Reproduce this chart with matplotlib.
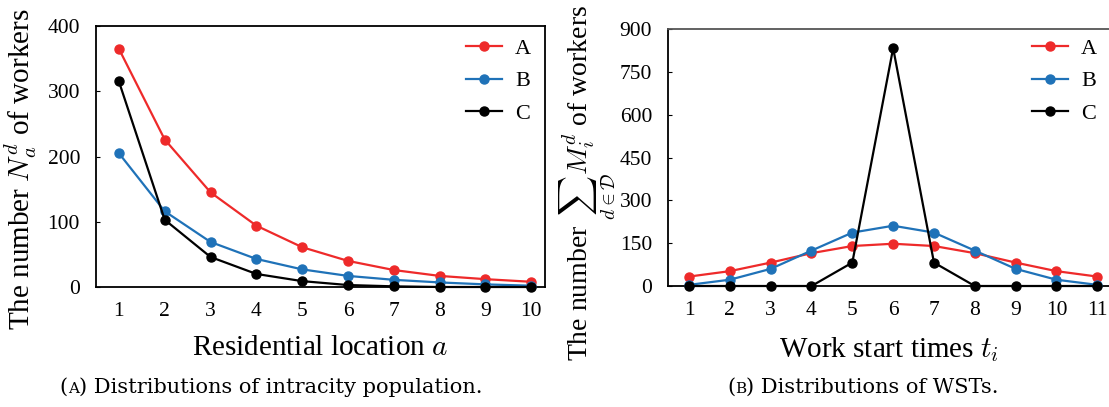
import matplotlib
matplotlib.use("Agg")
import matplotlib.pyplot as plt

plt.rcParams["font.family"] = ["Liberation Serif", "DejaVu Serif"]
plt.rcParams["mathtext.fontset"] = "cm"

# Panel (a): residential locations
locations = [1, 2, 3, 4, 5, 6, 7, 8, 9, 10]
pop_A = [365, 226, 145, 94, 61, 40, 26, 17, 12, 8]
pop_B = [205, 116, 69, 43, 27, 17, 11, 7, 4, 2]
pop_C = [315, 103, 46, 20, 9, 3, 1, 0, 0, 0]

# Panel (b): work start times
times = [1, 2, 3, 4, 5, 6, 7, 8, 9, 10, 11]
wst_A = [33, 52, 82, 115, 140, 148, 140, 115, 82, 52, 33]
wst_B = [4, 22, 60, 124, 187, 211, 187, 124, 60, 22, 4]
wst_C = [0, 0, 0, 0, 82, 833, 82, 0, 0, 0, 0]

series_names = ["A", "B", "C"]
colors = ["#ee2a2a", "#1f72b8", "#000000"]

W, H = 1109, 407
fig = plt.figure(figsize=(W / 100, H / 100), dpi=100)
ax1 = fig.add_axes([96 / W, 1 - 287 / H, 449 / W, 261 / H])
ax2 = fig.add_axes([668 / W, 1 - 286 / H, 466 / W, 257 / H])


def style_axes(ax):
    for s in ax.spines.values():
        s.set_linewidth(1.3)
        s.set_color("black")
    ax.tick_params(axis="x", length=0, pad=11, labelsize=15.5)
    ax.tick_params(axis="y", length=3, direction="in", pad=11.5,
                   labelsize=15.5)


def add_legend(ax, left_px, top_px):
    ax.legend(loc="upper left", frameon=False, fontsize=16,
              handlelength=1.6, labelspacing=0.55, handletextpad=0.6,
              borderpad=0, borderaxespad=0,
              bbox_to_anchor=(left_px / W, 1 - top_px / H),
              bbox_transform=fig.transFigure)


for vals, name, c in zip([pop_A, pop_B, pop_C], series_names, colors):
    ax1.plot(locations, vals, color=c, lw=1.6, marker="o", ms=6.5,
             label=name, clip_on=False, zorder=3)
ax1.set_xlim(0.5, 10.3)
ax1.set_ylim(0, 400)
ax1.set_xticks(locations)
ax1.set_yticks([0, 100, 200, 300, 400])
style_axes(ax1)
ax1.set_xlabel(r"Residential location $a$", fontsize=21)
ax1.xaxis.set_label_coords(0.5, -0.185)
ax1.set_ylabel(r"The number $N_a^d$ of workers", fontsize=21)
ax1.yaxis.set_label_coords(-0.128, 0.45)
add_legend(ax1, 466, 38)

for vals, name, c in zip([wst_A, wst_B, wst_C], series_names, colors):
    ax2.plot(times, vals, color=c, lw=1.6, marker="o", ms=6.5,
             label=name, clip_on=False, zorder=3)
ax2.set_xlim(0.485, 11.9)
ax2.set_ylim(0, 900)
ax2.set_xticks(times)
ax2.set_yticks([0, 150, 300, 450, 600, 750, 900])
style_axes(ax2)
ax2.spines["top"].set_color("#555555")
ax2.set_xlabel(r"Work start times $t_i$", fontsize=21)
ax2.xaxis.set_label_coords(0.475, -0.19)
ax2.set_ylabel(r"The number $\sum_{d\in\mathcal{D}} M_i^d$ of workers",
               fontsize=20)
ax2.yaxis.set_label_coords(-0.11, 0.40)
add_legend(ax2, 1032, 38)


def caption(x, y, letter, rest):
    """Caption with a small-caps panel letter, centred on x."""
    parts = [("(", 15), (letter, 11), (") " + rest, 15)]
    fig.canvas.draw()
    r = fig.canvas.get_renderer()
    texts = []
    for s, fs in parts:
        t = fig.text(0, y, s, fontsize=fs, va="baseline", ha="left",
                     family="DejaVu Serif")
        texts.append(t)
    widths = [t.get_window_extent(r).width for t in texts]
    total = sum(widths)
    cur = x * fig.bbox.width - total / 2
    for t, w in zip(texts, widths):
        t.set_x(cur / fig.bbox.width)
        cur += w


caption(271 / W, 1 - 393 / H, "A", "Distributions of intracity population.")
caption(863 / W, 1 - 393 / H, "B", "Distributions of WSTs.")

fig.savefig("out.png", dpi=100)
